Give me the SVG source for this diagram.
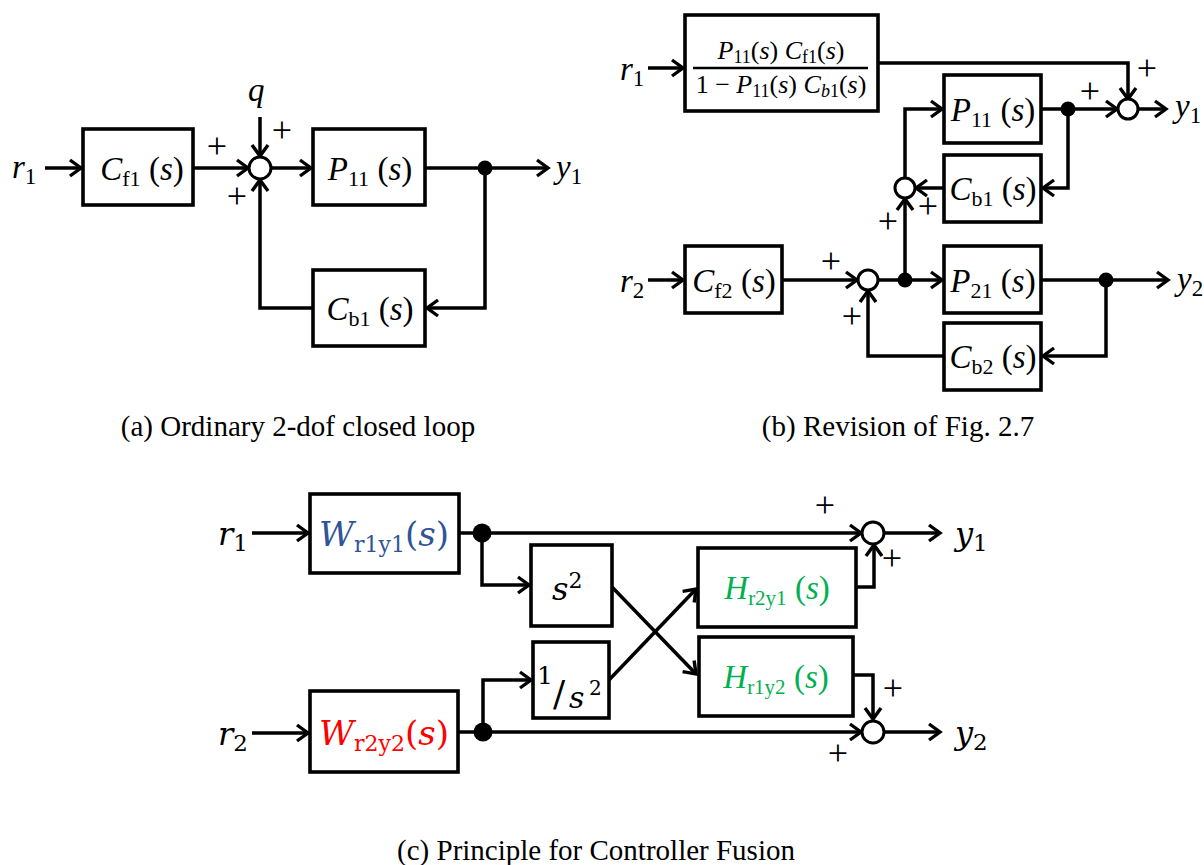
<svg xmlns="http://www.w3.org/2000/svg" width="1204" height="865" viewBox="0 0 1204 865">
<style>
.ln{stroke:#000;stroke-width:3.5;fill:none;marker-end:url(#ah)}
.bx{fill:#fff;stroke:#000;stroke-width:3.6}
.sum{fill:#fff;stroke:#000;stroke-width:3}
.dot{fill:#000}
.tm{font-family:"Liberation Serif",serif;font-size:33px;fill:#000}
.fr{font-family:"Liberation Serif",serif;font-size:26px;fill:#000;text-anchor:middle}
.cm{font-family:"DejaVu Serif","Liberation Serif",serif;fill:#000}
.cap{font-family:"Liberation Serif",serif;font-size:29px;text-anchor:middle;fill:#000}
.plus{font-family:"Liberation Serif",serif;font-size:36px;text-anchor:middle;fill:#000}
.it{font-style:italic}
.mid{text-anchor:middle}
</style>
<defs>
<marker id="ah" markerUnits="userSpaceOnUse" markerWidth="16" markerHeight="20" refX="13" refY="10" orient="auto" viewBox="0 0 16 20">
<path d="M2,2 L13,10 L2,18" fill="none" stroke="#000" stroke-width="3.4" stroke-linejoin="miter"/>
</marker>
</defs>

<!-- ===== Panel (a) ===== -->
<g id="connectors-a">
<line class="ln" x1="45" y1="168" x2="81" y2="168"/>
<line class="ln" x1="193" y1="168" x2="248" y2="168"/>
<line class="ln" x1="260" y1="117" x2="260" y2="156"/>
<line class="ln" x1="271" y1="168" x2="311" y2="168"/>
<line class="ln" x1="425" y1="168" x2="548" y2="168"/>
<polyline class="ln" points="485,168 485,308 427,308"/>
<polyline class="ln" points="313,308 260,308 260,180"/>
</g>
<g id="a-r1"><text class="tm" x="12" y="178"><tspan class="it">r</tspan><tspan font-size="23" dy="6">1</tspan></text></g>
<g id="a-Cf1"><rect class="bx" x="83" y="129" width="110" height="76"/>
<text class="tm mid" x="142" y="180"><tspan class="it">C</tspan><tspan font-size="22" dy="6">f1</tspan><tspan dy="-6"> (</tspan><tspan class="it">s</tspan>)</text></g>
<g id="a-sum"><circle class="sum" cx="260" cy="168" r="11"/></g>
<g id="a-q"><text class="tm it" x="248" y="101">q</text></g>
<g id="a-P11"><rect class="bx" x="313" y="129" width="112" height="76"/>
<text class="tm mid" x="370" y="180"><tspan class="it">P</tspan><tspan font-size="22" dy="6">11</tspan><tspan dy="-6"> (</tspan><tspan class="it">s</tspan>)</text></g>
<g id="a-dot"><circle class="dot" cx="485" cy="168" r="7.5"/></g>
<g id="a-y1"><text class="tm" x="556" y="178"><tspan class="it">y</tspan><tspan font-size="23" dy="6">1</tspan></text></g>
<g id="a-Cb1"><rect class="bx" x="313" y="270" width="112" height="76"/>
<text class="tm mid" x="370" y="320"><tspan class="it">C</tspan><tspan font-size="22" dy="6">b1</tspan><tspan dy="-6"> (</tspan><tspan class="it">s</tspan>)</text></g>
<g id="a-signs">
<text class="plus" x="217" y="158">+</text>
<text class="plus" x="282" y="142">+</text>
<text class="plus" x="237" y="208">+</text>
</g>
<text class="cap" x="298" y="436">(a) Ordinary 2-dof closed loop</text>

<!-- ===== Panel (b) ===== -->
<g id="connectors-b">
<line class="ln" x1="648" y1="68" x2="683" y2="68"/>
<polyline class="ln" points="878,63 1128,63 1128,99"/>
<line class="ln" x1="1041" y1="109" x2="1117" y2="109"/>
<line class="ln" x1="1138" y1="109" x2="1166" y2="109"/>
<polyline class="ln" points="1068,109 1068,188 1043,188"/>
<line class="ln" x1="944" y1="188" x2="916" y2="188"/>
<polyline class="ln" points="905,178 905,109 942,109"/>
<line class="ln" x1="905" y1="280" x2="905" y2="199"/>
<line class="ln" x1="648" y1="280" x2="683" y2="280"/>
<line class="ln" x1="782" y1="280" x2="857" y2="280"/>
<line class="ln" x1="878" y1="280" x2="942" y2="280"/>
<line class="ln" x1="1041" y1="280" x2="1168" y2="280"/>
<polyline class="ln" points="1106,280 1106,356 1043,356"/>
<polyline class="ln" points="944,356 868,356 868,291"/>
</g>
<g id="b-r1"><text class="tm" x="620" y="80"><tspan class="it">r</tspan><tspan font-size="23" dy="6">1</tspan></text></g>
<g id="b-frac"><rect class="bx" x="685" y="15" width="193" height="96"/>
<text class="fr" x="781" y="59"><tspan class="it">P</tspan><tspan font-size="18" dy="4">11</tspan><tspan dy="-4">(</tspan><tspan class="it">s</tspan>) <tspan class="it">C</tspan><tspan font-size="18" dy="4">f1</tspan><tspan dy="-4">(</tspan><tspan class="it">s</tspan>)</text>
<line x1="693" y1="68" x2="868" y2="68" stroke="#000" stroke-width="2.5"/>
<text class="fr" x="781" y="93">1 − <tspan class="it">P</tspan><tspan font-size="18" dy="4">11</tspan><tspan dy="-4">(</tspan><tspan class="it">s</tspan>) <tspan class="it">C</tspan><tspan class="it" font-size="18" dy="4">b</tspan><tspan font-size="18">1</tspan><tspan dy="-4">(</tspan><tspan class="it">s</tspan>)</text></g>
<g id="b-sum1"><circle class="sum" cx="1128" cy="109" r="10"/></g>
<g id="b-P11"><rect class="bx" x="944" y="75" width="97" height="68"/>
<text class="tm mid" x="993" y="121"><tspan class="it">P</tspan><tspan font-size="22" dy="6">11</tspan><tspan dy="-6"> (</tspan><tspan class="it">s</tspan>)</text></g>
<g id="b-dot1"><circle class="dot" cx="1068" cy="109" r="7.5"/></g>
<g id="b-y1"><text class="tm" x="1175" y="117"><tspan class="it">y</tspan><tspan font-size="23" dy="6">1</tspan></text></g>
<g id="b-Cb1"><rect class="bx" x="944" y="155" width="97" height="67"/>
<text class="tm mid" x="993" y="200"><tspan class="it">C</tspan><tspan font-size="22" dy="6">b1</tspan><tspan dy="-6"> (</tspan><tspan class="it">s</tspan>)</text></g>
<g id="b-sum2"><circle class="sum" cx="905" cy="188" r="10"/></g>
<g id="b-r2"><text class="tm" x="620" y="292"><tspan class="it">r</tspan><tspan font-size="23" dy="6">2</tspan></text></g>
<g id="b-Cf2"><rect class="bx" x="685" y="246" width="97" height="67"/>
<text class="tm mid" x="734" y="292"><tspan class="it">C</tspan><tspan font-size="22" dy="6">f2</tspan><tspan dy="-6"> (</tspan><tspan class="it">s</tspan>)</text></g>
<g id="b-sum3"><circle class="sum" cx="868" cy="280" r="10"/></g>
<g id="b-dot2"><circle class="dot" cx="905" cy="280" r="7.5"/></g>
<g id="b-P21"><rect class="bx" x="944" y="246" width="97" height="67"/>
<text class="tm mid" x="993" y="292"><tspan class="it">P</tspan><tspan font-size="22" dy="6">21</tspan><tspan dy="-6"> (</tspan><tspan class="it">s</tspan>)</text></g>
<g id="b-dot3"><circle class="dot" cx="1106" cy="280" r="7.5"/></g>
<g id="b-y2"><text class="tm" x="1177" y="290"><tspan class="it">y</tspan><tspan font-size="23" dy="6">2</tspan></text></g>
<g id="b-Cb2"><rect class="bx" x="944" y="323" width="97" height="67"/>
<text class="tm mid" x="993" y="368"><tspan class="it">C</tspan><tspan font-size="22" dy="6">b2</tspan><tspan dy="-6"> (</tspan><tspan class="it">s</tspan>)</text></g>
<g id="b-signs">
<text class="plus" x="1147" y="80">+</text>
<text class="plus" x="1090" y="103">+</text>
<text class="plus" x="928" y="218">+</text>
<text class="plus" x="888" y="233">+</text>
<text class="plus" x="831" y="273">+</text>
<text class="plus" x="852" y="328">+</text>
</g>
<text class="cap" x="898" y="436">(b) Revision of Fig. 2.7</text>

<!-- ===== Panel (c) ===== -->
<g id="connectors-c">
<line class="ln" x1="252" y1="533" x2="308" y2="533"/>
<line class="ln" x1="459" y1="533" x2="861" y2="533"/>
<line class="ln" x1="884" y1="533" x2="940" y2="533"/>
<polyline class="ln" points="482,533 482,585 529,585"/>
<line class="ln" x1="612" y1="587" x2="696" y2="674"/>
<line class="ln" x1="609" y1="680" x2="696" y2="589"/>
<polyline class="ln" points="856,587 874,587 874,545"/>
<polyline class="ln" points="853,675 873,675 873,719"/>
<line class="ln" x1="252" y1="733" x2="308" y2="733"/>
<line class="ln" x1="458" y1="732" x2="861" y2="732"/>
<line class="ln" x1="884" y1="732" x2="940" y2="732"/>
<polyline class="ln" points="483,732 483,680 531,680"/>
</g>
<g id="c-r1"><text class="cm" x="218" y="545" font-size="32"><tspan class="it">r</tspan><tspan font-size="23" dy="6">1</tspan></text></g>
<g id="c-W1"><rect class="bx" x="310" y="494" width="149" height="79"/>
<text class="cm mid" x="384" y="546" font-size="34" style="fill:#2F5597"><tspan class="it">W</tspan><tspan font-size="22" dy="6">r1y1</tspan><tspan dy="-6">(</tspan><tspan class="it">s</tspan>)</text></g>
<g id="c-dot1"><circle class="dot" cx="482" cy="533" r="9.5"/></g>
<g id="c-sum1"><circle class="sum" cx="873" cy="533" r="11"/></g>
<g id="c-y1"><text class="cm" x="955" y="545" font-size="32"><tspan class="it">y</tspan><tspan font-size="23" dy="6">1</tspan></text></g>
<g id="c-s2"><rect class="bx" x="531" y="545" width="81" height="81"/>
<text class="cm" x="552" y="600" font-size="32"><tspan class="it">s</tspan><tspan font-size="22" dy="-12">2</tspan></text></g>
<g id="c-inv"><rect class="bx" x="533" y="642" width="76" height="76"/>
<text class="cm" font-size="28"><tspan x="537" y="684" font-size="25">1</tspan><tspan x="553" y="706" font-size="36">/</tspan><tspan class="it" x="569" y="708" font-size="30">s</tspan><tspan x="589" y="695" font-size="20">2</tspan></text></g>
<g id="c-W2"><rect class="bx" x="310" y="691" width="148" height="81"/>
<text class="cm mid" x="384" y="745" font-size="34" style="fill:#FF0000"><tspan class="it">W</tspan><tspan font-size="22" dy="6">r2y2</tspan><tspan dy="-6">(</tspan><tspan class="it">s</tspan>)</text></g>
<g id="c-r2"><text class="cm" x="218" y="745" font-size="32"><tspan class="it">r</tspan><tspan font-size="23" dy="6">2</tspan></text></g>
<g id="c-dot2"><circle class="dot" cx="483" cy="732" r="9.5"/></g>
<g id="c-sum2"><circle class="sum" cx="873" cy="732" r="11"/></g>
<g id="c-y2"><text class="cm" x="955" y="744" font-size="32"><tspan class="it">y</tspan><tspan font-size="23" dy="6">2</tspan></text></g>
<g id="c-H1"><rect class="bx" x="698" y="548" width="158" height="79"/>
<text class="tm mid" x="777" y="599" style="fill:#00B050"><tspan class="it">H</tspan><tspan font-size="21" dy="6">r2y1</tspan><tspan dy="-6"> (</tspan><tspan class="it">s</tspan>)</text></g>
<g id="c-H2"><rect class="bx" x="699" y="637" width="154" height="79"/>
<text class="tm mid" x="776" y="688" style="fill:#00B050"><tspan class="it">H</tspan><tspan font-size="21" dy="6">r1y2</tspan><tspan dy="-6"> (</tspan><tspan class="it">s</tspan>)</text></g>
<g id="c-signs">
<text class="plus" x="825" y="517">+</text>
<text class="plus" x="892" y="570">+</text>
<text class="plus" x="893" y="700">+</text>
<text class="plus" x="838" y="765">+</text>
</g>
<text class="cap" x="596" y="860">(c) Principle for Controller Fusion</text>
</svg>
